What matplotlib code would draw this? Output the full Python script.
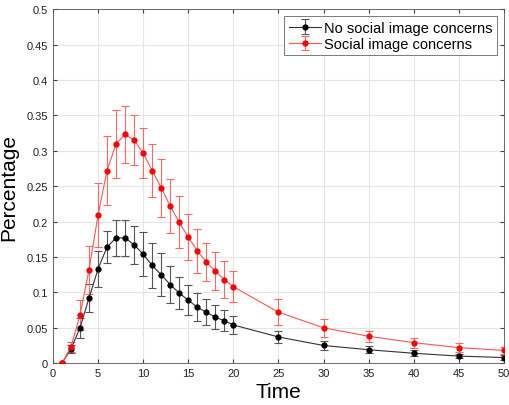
import matplotlib

matplotlib.use("Agg")
import matplotlib.pyplot as plt  # noqa: E402

plt.rcParams.update({"font.family": ["Liberation Sans", "DejaVu Sans"], "font.size": 8})

# time steps (periods 1..20, then every 5 up to 50)
time = [1, 2, 3, 4, 5, 6, 7, 8, 9, 10, 11, 12, 13, 14, 15, 16, 17, 18, 19, 20,
        25, 30, 35, 40, 45, 50]

no_social = [0.0, 0.020, 0.050, 0.092, 0.133, 0.164, 0.177, 0.177, 0.167, 0.154,
             0.138, 0.125, 0.111, 0.099, 0.089, 0.079, 0.072, 0.065, 0.060, 0.054,
             0.037, 0.025, 0.019, 0.014, 0.010, 0.008]
no_social_err = [0.0, 0.005, 0.014, 0.020, 0.025, 0.022, 0.025, 0.025, 0.027, 0.031,
                 0.032, 0.030, 0.026, 0.023, 0.021, 0.020, 0.018, 0.017, 0.015, 0.013,
                 0.009, 0.007, 0.005, 0.004, 0.003, 0.003]

social = [0.0, 0.023, 0.068, 0.132, 0.209, 0.272, 0.310, 0.323, 0.315, 0.297,
          0.272, 0.248, 0.222, 0.199, 0.178, 0.159, 0.143, 0.130, 0.118, 0.108,
          0.072, 0.050, 0.038, 0.029, 0.022, 0.018]
social_err = [0.0, 0.007, 0.021, 0.034, 0.045, 0.049, 0.048, 0.040, 0.035, 0.035,
              0.038, 0.041, 0.038, 0.037, 0.032, 0.031, 0.027, 0.027, 0.026, 0.022,
              0.018, 0.013, 0.008, 0.007, 0.006, 0.005]

fig = plt.figure(figsize=(5.09, 4.06), dpi=100)
ax = fig.add_axes([0.104, 0.103, 0.886, 0.872])

ax.errorbar(time, no_social, yerr=no_social_err, fmt="-o", color="#333333", mfc="black",
            mec="black", ms=3.5, lw=0.8, ecolor="#555555", elinewidth=0.8, capsize=3,
            capthick=0.8, label="No social image concerns", zorder=3)
ax.errorbar(time, social, yerr=social_err, fmt="-o", color="#ff5555", mfc="red",
            mec="red", ms=3.5, lw=0.8, ecolor="#ff6666", elinewidth=0.8, capsize=3,
            capthick=0.8, label="Social image concerns", zorder=3)

ax.set_xlim(0, 50)
ax.set_ylim(0, 0.5)
ax.set_xticks(range(0, 51, 5))
ax.set_yticks([i * 0.05 for i in range(11)])
ax.set_yticklabels(["0", "0.05", "0.1", "0.15", "0.2", "0.25", "0.3", "0.35", "0.4",
                    "0.45", "0.5"])
ax.tick_params(direction="in", length=3, color="#444444", labelcolor="#222222",
               top=True, right=True)
ax.grid(color="#e6e6e6", lw=0.8)
ax.set_axisbelow(True)
for s in ax.spines.values():
    s.set_color("#555555")
    s.set_linewidth(0.6)

ax.set_xlabel("Time", fontsize=15, labelpad=3)
ax.set_ylabel("Percentage", fontsize=15, labelpad=6)

leg = ax.legend(loc="upper right", fontsize=10.5, fancybox=False, framealpha=1,
                edgecolor="#666666", borderpad=0.3, handlelength=2.2,
                handletextpad=0.2, labelspacing=0.15, borderaxespad=0.5)
leg.get_frame().set_linewidth(0.6)

fig.savefig("out.png", dpi=100)
